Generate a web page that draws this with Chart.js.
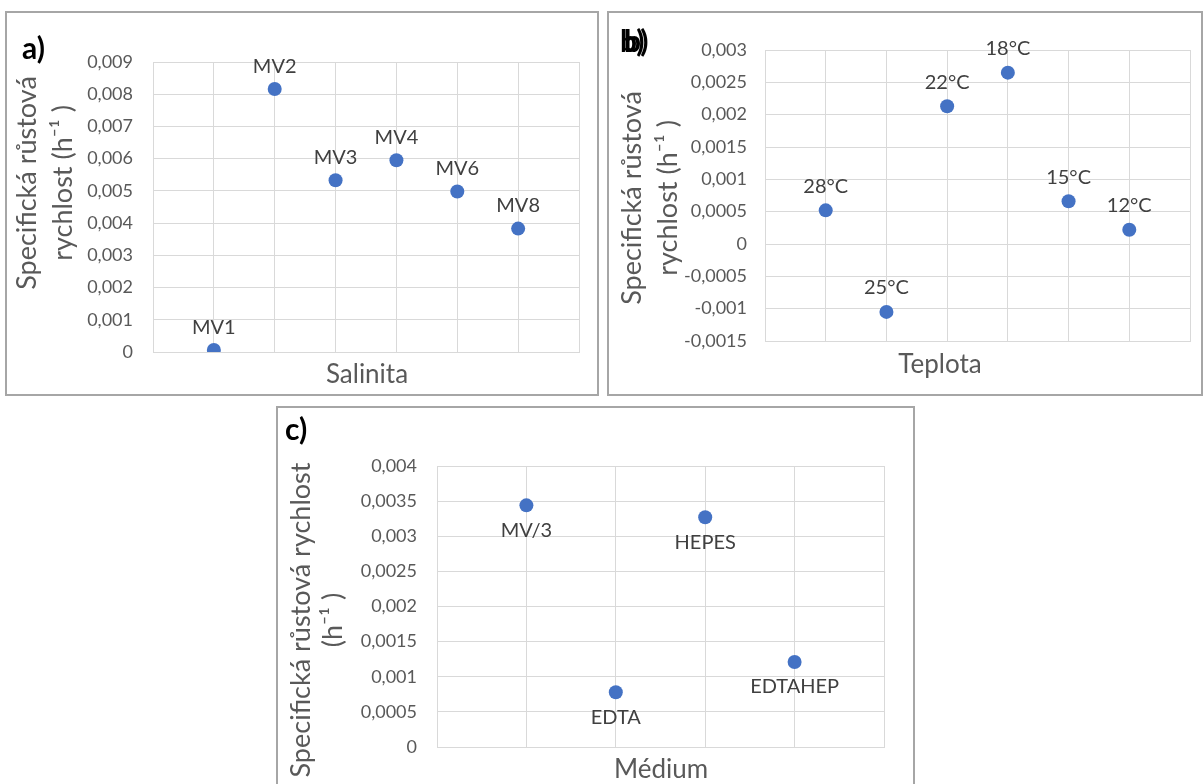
<!DOCTYPE html>
<html>
<head>
  <title>Specifická růstová rychlost</title>
  <script src="https://cdn.jsdelivr.net/npm/chart.js"></script>
  <style>
    html, body {
      margin: 0;
      padding: 0;
      overflow: hidden;
      background: #fff;
    }

    .panel {
      position: absolute;
      border: 2px solid #a6a6a6;
      box-sizing: border-box;
      overflow: hidden;
    }

    .panel canvas {
      position: absolute;
      left: 0;
      top: 0;
    }

    .tag {
      position: absolute;
      font: bold 30px Lato, sans-serif;
      line-height: 36px;
      color: #000;
    }
  </style>
</head>
<body>
  <div class="panel" style="left:5px;top:11px;width:594px;height:385px">
    <canvas id="salinityChart" width="590" height="381"></canvas>
    <div class="tag" style="left:15px;top:16px">a)</div>
  </div>
  <div class="panel" style="left:607px;top:11px;width:596px;height:385px">
    <canvas id="tempChart" width="592" height="381"></canvas>
    <div class="tag" style="left:11px;top:9px;text-shadow:4px 0 0 #000">b)</div>
  </div>
  <div class="panel" style="left:276px;top:406px;width:639px;height:400px">
    <canvas id="mediumChart" width="635" height="396"></canvas>
    <div class="tag" style="left:7px;top:2px">c)</div>
  </div>

  <script>
    // a) salinita
    const salinityLabels = ["MV1", "MV2", "MV3", "MV4", "MV6", "MV8"];
    const salinityRates = [0.00006, 0.00816, 0.00533, 0.00595, 0.00498, 0.00383];

    // b) teplota
    const tempLabels = ["28°C", "25°C", "22°C", "18°C", "15°C", "12°C"];
    const tempRates = [0.00052, -0.00105, 0.00213, 0.00265, 0.00066, 0.00022];

    // c) médium
    const mediumLabels = ["MV/3", "EDTA", "HEPES", "EDTAHEP"];
    const mediumRates = [0.00344, 0.00078, 0.00327, 0.00121];

    const yTitleLines = ["Specifická růstová", "rychlost (h⁻¹ )"];
    const yTitleLinesC = ["Specifická růstová rychlost", "(h⁻¹ )"];

    const FONT = "Lato, sans-serif";
    const GRID = "#d9d9d9";
    const TEXT = "#595959";

    // labels next to each point
    const pointLabels = {
      id: "pointLabels",
      afterDatasetsDraw(chart, args, opts) {
        const ctx = chart.ctx;
        const meta = chart.getDatasetMeta(0);
        ctx.save();
        ctx.font = "20px " + FONT;
        ctx.fillStyle = "#404040";
        ctx.textAlign = "center";
        ctx.textBaseline = "middle";
        meta.data.forEach((pt, i) => {
          ctx.fillText(opts.labels[i], pt.x, pt.y + opts.offset);
        });
        ctx.restore();
      }
    };

    // axis titles placed like in the original Excel charts
    const axisTitles = {
      id: "axisTitles",
      afterDraw(chart, args, opts) {
        const ctx = chart.ctx;
        ctx.save();
        ctx.fillStyle = TEXT;
        ctx.textAlign = "center";
        ctx.textBaseline = "middle";
        ctx.font = "26px " + FONT;
        ctx.fillText(opts.xText, opts.xAt[0], opts.xAt[1]);
        ctx.font = "27px " + FONT;
        opts.yLines.forEach((line, i) => {
          ctx.save();
          ctx.translate(opts.yAt[i], opts.yMid);
          ctx.rotate(-Math.PI / 2);
          ctx.fillText(line, 0, 0);
          ctx.restore();
        });
        ctx.restore();
      }
    };

    function commaNumber(value) {
      return String(Number(value.toFixed(5))).replace(".", ",");
    }

    function createChart(canvasId, labels, values, s) {
      const ctx = document.getElementById(canvasId).getContext("2d");
      return new Chart(ctx, {
        type: "scatter",
        data: {
          datasets: [{
            data: values.map((v, i) => ({ x: i + 1, y: v })),
            backgroundColor: "#4472c4",
            borderColor: "#4472c4",
            borderWidth: 0,
            pointRadius: 7,
            pointHoverRadius: 7,
          }],
        },
        plugins: [pointLabels, axisTitles],
        options: {
          responsive: false,
          animation: false,
          layout: {
            padding: { top: s.plotTop, right: s.padRight, left: 0, bottom: 0 },
          },
          scales: {
            x: {
              type: "linear",
              min: 0,
              max: labels.length + 1,
              ticks: { display: false, stepSize: 1 },
              grid: { color: GRID, drawTicks: false },
              border: { color: GRID },
              afterFit: axis => { axis.height = s.xHeight; },
            },
            y: {
              min: s.min,
              max: s.max,
              ticks: {
                stepSize: s.step,
                padding: s.tickPad,
                color: TEXT,
                font: { family: FONT, size: 18 },
                callback: commaNumber,
              },
              grid: { color: GRID, drawTicks: false },
              border: { color: GRID },
              afterFit: axis => { axis.width = s.yWidth; },
            },
          },
          plugins: {
            legend: { display: false },
            tooltip: { enabled: false },
            pointLabels: { labels: labels, offset: s.labelOffset },
            axisTitles: {
              xText: s.xText,
              xAt: s.xAt,
              yLines: s.yLines,
              yAt: s.yAt,
              yMid: s.yMid,
            },
          },
        },
      });
    }

    document.addEventListener("DOMContentLoaded", () => {
      createChart("salinityChart", salinityLabels, salinityRates, {
        min: 0, max: 0.009, step: 0.001,
        plotTop: 49, padRight: 18, yWidth: 146, xHeight: 42, tickPad: 20,
        labelOffset: -23,
        xText: "Salinita", xAt: [360, 362],
        yLines: yTitleLines, yAt: [20, 56], yMid: 170,
      });

      createChart("tempChart", tempLabels, tempRates, {
        min: -0.0015, max: 0.003, step: 0.0005,
        plotTop: 37, padRight: 11, yWidth: 156, xHeight: 53, tickPad: 18,
        labelOffset: -24,
        xText: "Teplota", xAt: [331, 352],
        yLines: yTitleLines, yAt: [23, 59], yMid: 185,
      });

      createChart("mediumChart", mediumLabels, mediumRates, {
        min: 0, max: 0.004, step: 0.0005,
        plotTop: 58, padRight: 29, yWidth: 159, xHeight: 57, tickPad: 20,
        labelOffset: 25,
        xText: "Médium", xAt: [383, 362],
        yLines: yTitleLinesC, yAt: [23, 55], yMid: 212,
      });
    });
  </script>
</body>
</html>
